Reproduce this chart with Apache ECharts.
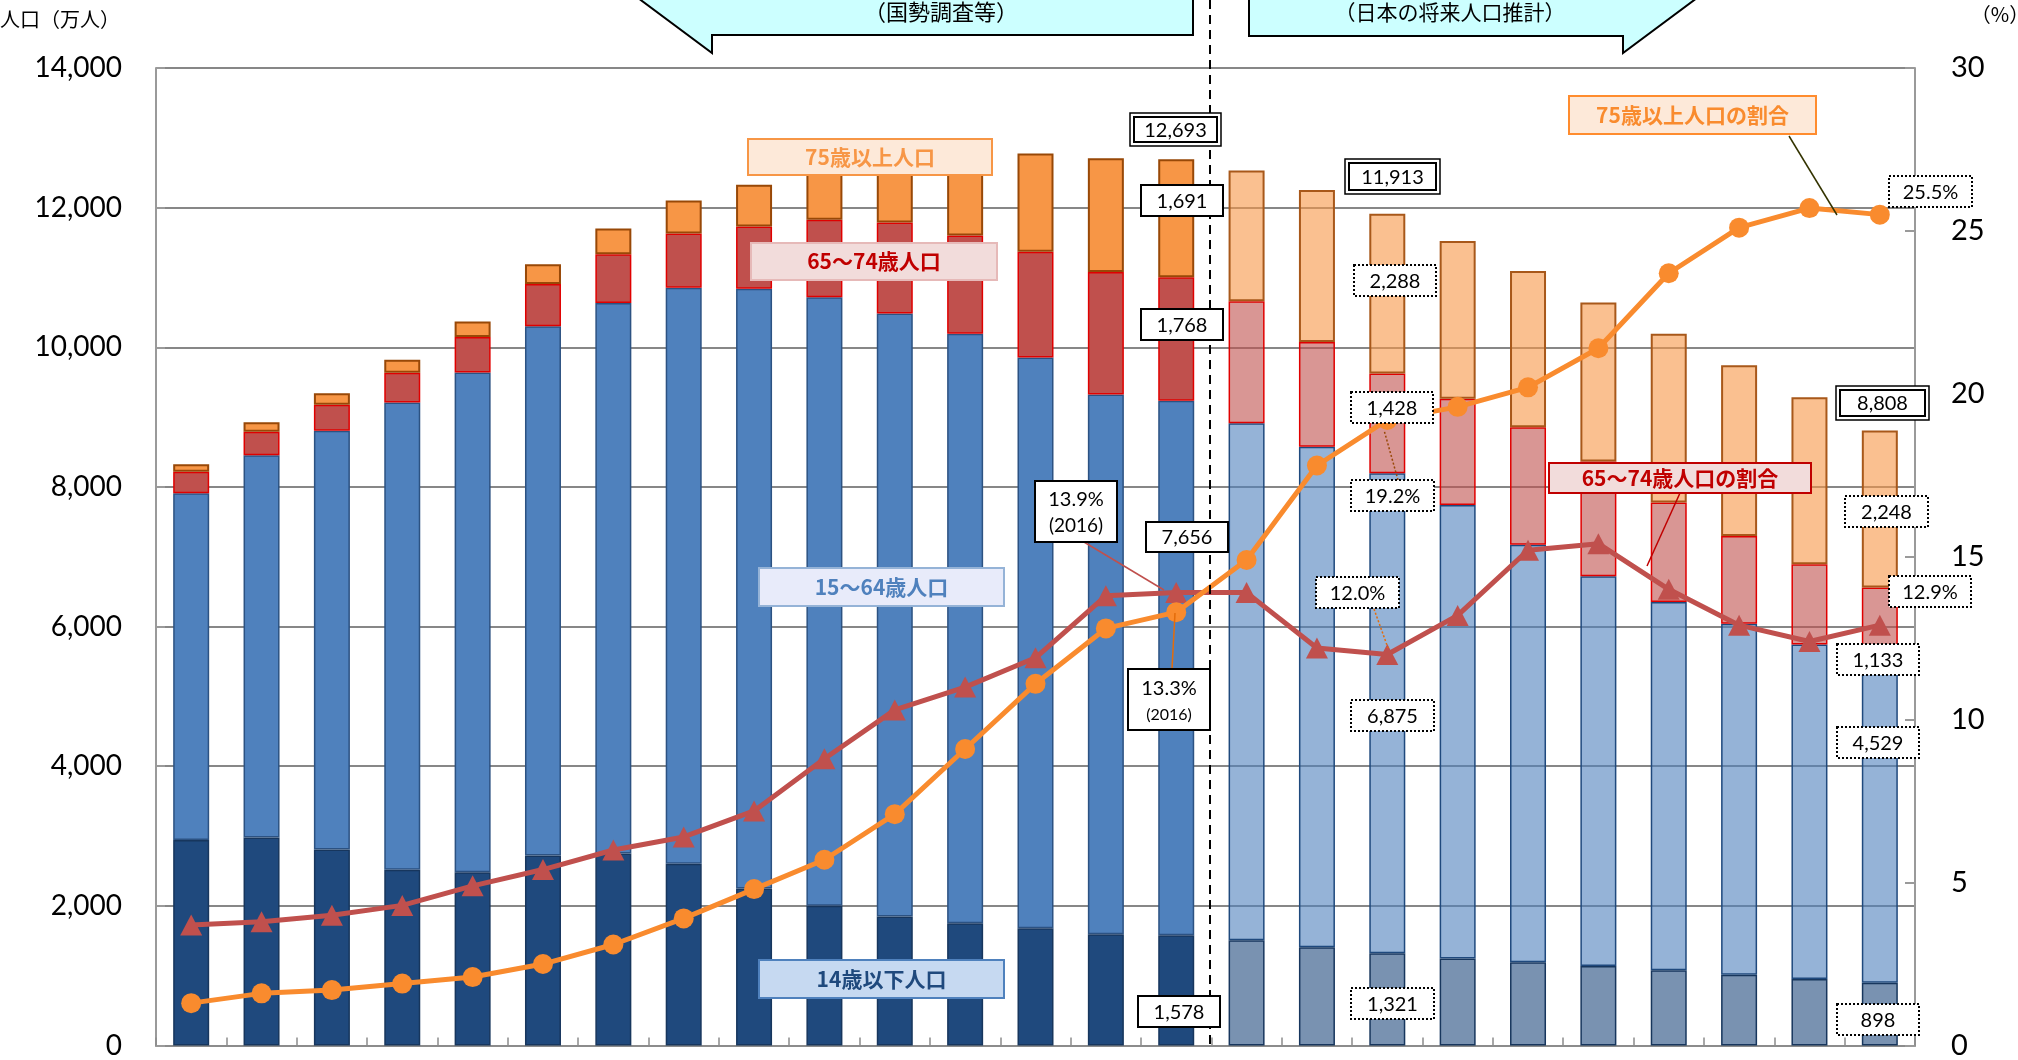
<!DOCTYPE html>
<html><head><meta charset="utf-8">
<script src="https://cdn.jsdelivr.net/npm/echarts@6/dist/echarts.min.js"></script>
<style>html,body{margin:0;padding:0;background:#fff}#c{width:2018px;height:1060px}</style>
</head><body><div id="c"></div>
<script>
// ---- data (万人 / %) ----
const years = ['1950','1955','1960','1965','1970','1975','1980','1985','1990','1995','2000','2005','2010','2015','2016',
               '2020','2025','2030','2035','2040','2045','2050','2055','2060','2065'];
const pop0_14  = [2943,2980,2807,2517,2482,2722,2751,2603,2249,2001,1847,1752,1680,1595,1578,1507,1407,1321,1246,1194,1138,1077,1012,951,898];
const pop15_64 = [4966,5473,5998,6692,7157,7581,7884,8251,8590,8717,8638,8442,8173,7728,7656,7406,7170,6875,6494,5978,5584,5275,5028,4793,4529];
const pop65_74 = [309,336,373,425,508,603,699,776,892,1109,1301,1407,1517,1754,1768,1747,1497,1428,1522,1681,1643,1424,1258,1150,1133];
const pop75    = [107,139,163,189,224,284,366,471,597,717,900,1160,1407,1632,1691,1872,2180,2288,2260,2239,2277,2417,2446,2390,2248];
const ratio75    = [1.3,1.6,1.7,1.9,2.1,2.5,3.1,3.9,4.8,5.7,7.1,9.1,11.1,12.8,13.3,14.9,17.8,19.2,19.6,20.2,21.4,23.7,25.1,25.7,25.5];
const ratio65_74 = [3.7,3.8,4.0,4.3,4.9,5.4,6.0,6.4,7.2,8.8,10.3,11.0,11.9,13.8,13.9,13.9,12.2,12.0,13.2,15.2,15.4,14.0,12.9,12.4,12.9];
const seriesNames = ['14歳以下人口','15～64歳人口','65～74歳人口','75歳以上人口','75歳以上人口の割合','65～74歳人口の割合'];
const leftAxis  = {min:0, max:14000, interval:2000};
const rightAxis = {min:0, max:30, interval:5};
const FUTURE_START = 15;

const NUM_FONT = 'Lato, "Noto Sans", sans-serif';
const JP = '"Noto Sans CJK JP", "Noto Sans", sans-serif';

function barData(vals, solid, faded, bSolid, bFaded) {
  return vals.map((v, i) => ({
    value: v,
    itemStyle: { color: i >= FUTURE_START ? faded : solid, borderColor: i >= FUTURE_START ? bFaded : bSolid }
  }));
}

// ---- annotations ----
const G = [];
function poly(points, fill) {
  G.push({type:'polygon', z:120, shape:{points}, style:{fill, stroke:'#000', lineWidth:2}});
}
function txt(x, y, text, font, fill, align) {
  G.push({type:'text', z:131, x, y, style:{text, font, fill: fill || '#000',
    align: align || 'center', verticalAlign:'middle', textAlign: align || 'center', textVerticalAlign:'middle'}});
}
function valBox(x1, y1, x2, y2, kind, text) {
  const w = x2 - x1, h = y2 - y1;
  if (kind === 'double') {
    G.push({type:'rect', z:125, shape:{x:x1, y:y1, width:w, height:h}, style:{fill:'#fff', stroke:'#000', lineWidth:1.5}});
    G.push({type:'rect', z:126, shape:{x:x1+4, y:y1+4, width:w-8, height:h-8}, style:{fill:'none', stroke:'#000', lineWidth:2}});
  } else if (kind === 'dotted') {
    G.push({type:'rect', z:125, shape:{x:x1, y:y1, width:w, height:h}, style:{fill:'#fff', stroke:'#000', lineWidth:2, lineDash:[2,2]}});
  } else {
    G.push({type:'rect', z:125, shape:{x:x1, y:y1, width:w, height:h}, style:{fill:'#fff', stroke:'#000', lineWidth:2}});
  }
  if (text) txt((x1+x2)/2, (y1+y2)/2 + 1, text, '20px ' + NUM_FONT, '#000');
}
function catBox(x1, y1, x2, y2, fill, stroke, color, text) {
  G.push({type:'rect', z:125, shape:{x:x1, y:y1, width:x2-x1, height:y2-y1}, style:{fill, stroke, lineWidth:2}});
  txt((x1+x2)/2, (y1+y2)/2, text, 'bold 21px ' + JP, color);
}
function lead(x1, y1, x2, y2, stroke, dash) {
  G.push({type:'line', z:124, shape:{x1, y1, x2, y2}, style:{stroke, lineWidth:1.5, lineDash: dash || null}});
}

// callouts at top
poly([[634,-5],[712,53],[712,35],[1193,35],[1193,-5]], '#CCFFFF');
poly([[1249,-5],[1249,36],[1623,36],[1623,53],[1701,-5]], '#CCFFFF');
txt(941, 12, '（国勢調査等）', '22px ' + JP, '#000');
txt(1450, 12, '（日本の将来人口推計）', '21px ' + JP, '#000');
// dashed divider
G.push({type:'line', z:110, shape:{x1:1210, y1:0, x2:1210, y2:1047}, style:{stroke:'#000', lineWidth:2, lineDash:[9,6]}});
// axis names
txt(0, 19, '人口（万人）', '20px ' + JP, '#000', 'left');
txt(2000, 14, '（%）', '20px ' + JP, '#000');

// leader lines
lead(1084, 542, 1164, 590, '#C0504D');
lead(1172, 669, 1175, 613, '#E46C0A');
lead(1398, 480, 1384, 430, '#984807', [2,2]);
lead(1374, 609, 1388, 648, '#E46C0A', [2,2]);
lead(1789, 136, 1837, 215, '#333300');
lead(1680, 493, 1647, 566, '#C00000');

// value boxes
valBox(1130,113,1221,146,'double','12,693');
valBox(1141,185,1223,216,'solid','1,691');
valBox(1141,309,1223,340,'solid','1,768');
valBox(1146,522,1228,552,'solid','7,656');
valBox(1035,481,1117,542,'solid','');
txt(1076, 500, '13.9%', '20px ' + NUM_FONT); txt(1076, 526, '(2016)', '19px ' + NUM_FONT);
valBox(1128,669,1210,730,'solid','');
txt(1169, 689, '13.3%', '20px ' + NUM_FONT); txt(1169, 715, '(2016)', '16px ' + NUM_FONT);
valBox(1138,996,1220,1027,'solid','1,578');
valBox(1345,159,1440,194,'double','11,913');
valBox(1354,265,1436,296,'dotted','2,288');
valBox(1351,392,1433,423,'dotted','1,428');
valBox(1351,480,1434,511,'dotted','19.2%');
valBox(1316,577,1399,608,'dotted','12.0%');
valBox(1351,700,1434,731,'dotted','6,875');
valBox(1351,988,1434,1019,'dotted','1,321');
valBox(1889,176,1972,207,'dotted','25.5%');
valBox(1836,386,1929,420,'double','8,808');
valBox(1845,496,1928,527,'dotted','2,248');
valBox(1889,576,1971,607,'dotted','12.9%');
valBox(1837,644,1919,675,'dotted','1,133');
valBox(1837,727,1919,758,'dotted','4,529');
valBox(1837,1004,1919,1035,'dotted','898');

// category label boxes
catBox(748,139,992,175,'#FDE9D9','#F79646','#F79646', seriesNames[3]);
catBox(751,243,997,280,'#F2DCDB','#E6B9B8','#C00000', seriesNames[2]);
catBox(759,568,1004,606,'#E8EBFA','#95B3D7','#4F81BD', seriesNames[1]);
catBox(759,960,1004,998,'#C6D9F1','#4F81BD','#1F497D', seriesNames[0]);
catBox(1569,96,1816,134,'#FDE9D9','#FF8C2E','#F98B2E', seriesNames[4]);
catBox(1549,463,1811,493,'#F2DCDB','#C00000','#C00000', seriesNames[5]);

const chart = echarts.init(document.getElementById('c'), null, {renderer:'canvas'});
chart.setOption({
  animation: false,
  backgroundColor: '#fff',
  grid: {left:156, right:103, top:68, bottom:13, containLabel:false},
  xAxis: {
    type:'category', data: years, boundaryGap:true,
    axisLabel:{show:false},
    axisLine:{lineStyle:{color:'#8c8c8c', width:2}},
    axisTick:{show:true, inside:true, length:8, lineStyle:{color:'#8c8c8c', width:1.5}},
    splitLine:{show:false}
  },
  yAxis: [{
    type:'value', min:leftAxis.min, max:leftAxis.max, interval:leftAxis.interval,
    axisLabel:{color:'#000', fontFamily:NUM_FONT, fontSize:28, margin:34,
      formatter: v => v.toLocaleString('en-US')},
    axisLine:{show:true, lineStyle:{color:'#9a9a9a', width:2}},
    axisTick:{show:true, inside:true, length:9, lineStyle:{color:'#9a9a9a', width:2}},
    splitLine:{show:true, lineStyle:{color:'#878787', width:2}}
  }, {
    type:'value', position:'right', min:rightAxis.min, max:rightAxis.max, interval:rightAxis.interval,
    axisLabel:{color:'#000', fontFamily:NUM_FONT, fontSize:29, margin:36},
    axisLine:{show:true, lineStyle:{color:'#9a9a9a', width:2}},
    axisTick:{show:true, inside:true, length:10, lineStyle:{color:'#9a9a9a', width:2}},
    splitLine:{show:false}
  }],
  series: [
    {name:seriesNames[0], type:'bar', stack:'p', barWidth:36, z:2,
     data: barData(pop0_14, '#1F497D', 'rgba(31,73,125,0.6)', '#17365D', '#17365D'),
     itemStyle:{borderWidth:1.5}},
    {name:seriesNames[1], type:'bar', stack:'p', barWidth:36, z:2,
     data: barData(pop15_64, '#4F81BD', 'rgba(79,129,189,0.6)', '#2C5282', '#1F497D'),
     itemStyle:{borderWidth:1.5}},
    {name:seriesNames[2], type:'bar', stack:'p', barWidth:36, z:2,
     data: barData(pop65_74, '#C0504D', 'rgba(192,80,77,0.6)', '#E00000', '#E00000'),
     itemStyle:{borderWidth:1.5}},
    {name:seriesNames[3], type:'bar', stack:'p', barWidth:36, z:2,
     data: barData(pop75, '#F79646', 'rgba(247,150,70,0.6)', '#984807', '#A8581A'),
     itemStyle:{borderWidth:2}},
    {name:seriesNames[5], type:'line', yAxisIndex:1, data: ratio65_74, z:5,
     symbol:'triangle', symbolSize:[22,21], showAllSymbol:true,
     lineStyle:{color:'#C0504D', width:5}, itemStyle:{color:'#C0504D'}},
    {name:seriesNames[4], type:'line', yAxisIndex:1, data: ratio75, z:6,
     symbol:'circle', symbolSize:20, showAllSymbol:true,
     lineStyle:{color:'#F98B2E', width:5}, itemStyle:{color:'#F98B2E'}}
  ],
  graphic: {elements: G}
});
</script>
</body></html>
